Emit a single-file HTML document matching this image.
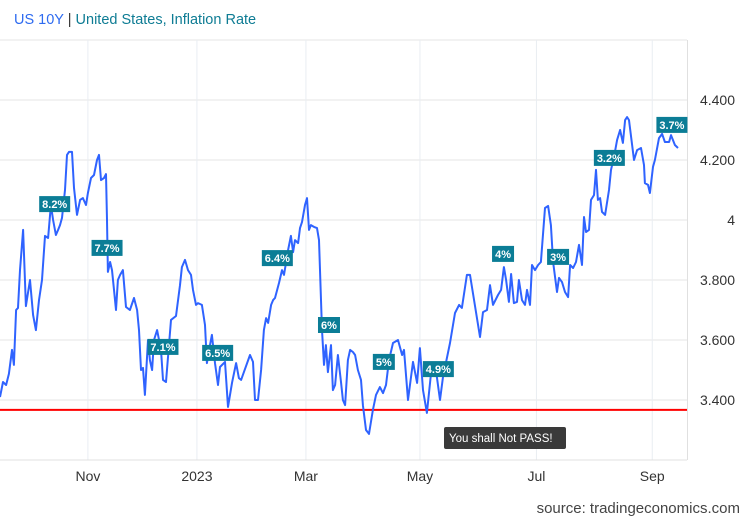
<!DOCTYPE html>
<html><head><meta charset="utf-8">
<style>
html,body{margin:0;padding:0;background:#fff;}
body{width:750px;height:520px;overflow:hidden;font-family:"Liberation Sans",Arial,sans-serif;}
</style></head>
<body>
<svg id="chart" width="750" height="520" xmlns="http://www.w3.org/2000/svg" font-family="Liberation Sans, Arial, sans-serif">
  <text x="14" y="24" font-size="14.5"><tspan fill="#2e6bf0">US 10Y</tspan><tspan fill="#333"> | </tspan><tspan fill="#0e7c94">United States, Inflation Rate</tspan></text>
  <g id="grid"></g>
  <g id="plot"></g>
  <g id="labels"></g>
  <g id="axes"></g>
  <g>
    <rect x="444" y="427" width="122" height="22" rx="2" fill="#3a3a3a"/>
    <text x="449" y="442" font-size="11.5" fill="#fff">You shall Not PASS!</text>
  </g>
  <text x="740" y="513" font-size="15" fill="#444" text-anchor="end">source: tradingeconomics.com</text>
</svg>
<script>
// days since 2022-09-13
const days = [0,1.7,3.4,5.0,6.7,7.8,9.0,10.1,11.2,12.9,14.5,16.8,18.5,20.1,21.8,23.5,25.2,26.9,28.5,29.7,31.3,32.5,33.6,34.7,36.4,37.5,38.6,40.3,41.4,43.1,44.8,46.4,48.1,49.2,50.9,52.6,54.3,55.4,56.5,58.2,59.3,59.9,60.4,61.6,62.7,63.8,64.9,66.0,67.2,68.8,70.5,72.7,75.0,76.7,77.8,78.9,80.0,81.1,82.8,83.9,85.1,86.2,87.9,90.1,91.2,92.9,95.7,98.5,100.7,101.8,103.5,105.2,106.9,108.0,109.7,110.8,113.0,114.7,115.8,117.5,118.6,120.3,122.0,123.1,125.9,127.6,129.8,132.1,133.7,134.9,139.9,141.6,142.7,144.4,146.1,147.7,148.9,150.0,151.7,152.8,153.9,156.1,157.8,158.9,161.2,162.8,164.0,165.1,166.8,167.9,169.0,170.7,171.8,172.9,174.0,175.7,177.4,178.5,180.2,181.3,182.4,183.5,185.2,186.3,187.5,189.1,190.8,191.9,193.1,194.7,195.9,197.5,198.7,200.3,202.0,203.1,204.8,206.5,208.7,210.4,212.6,214.3,216.0,217.7,219.9,222.7,225.0,226.1,228.3,231.1,233.4,235.0,236.7,238.9,241.8,243.4,246.2,247.9,251.8,254.6,256.9,258.5,261.3,263.0,268.6,270.3,272.5,274.2,275.9,278.7,280.4,282.0,283.2,284.8,286.0,287.6,289.3,290.4,292.1,293.8,294.9,296.6,297.7,299.4,301.1,302.7,305.0,306.7,308.3,309.5,311.7,312.8,314.5,316.2,317.9,319.0,320.7,322.3,324.0,325.7,326.8,327.9,329.6,330.7,332.4,333.5,334.6,335.8,336.9,338.6,340.8,341.9,343.6,345.3,347.0,348.6,349.8,350.9,352.0,354.8,356.5,358.7,360.4,360.9,362.6,363.7,365.4,366.5,368.8,370.5,372.1,374.4,375.5,377.7,379.4];
const yields = [3.410,3.460,3.450,3.487,3.567,3.517,3.700,3.707,3.833,3.967,3.713,3.800,3.683,3.633,3.733,3.800,3.947,3.940,4.050,4.000,3.950,3.967,3.983,4.007,4.100,4.217,4.227,4.227,4.107,4.017,4.067,4.073,4.050,4.090,4.140,4.150,4.200,4.217,4.133,4.140,4.153,4.000,3.827,3.860,3.833,3.767,3.700,3.800,3.817,3.833,3.710,3.700,3.740,3.700,3.633,3.500,3.507,3.417,3.600,3.533,3.500,3.600,3.633,3.567,3.467,3.460,3.667,3.680,3.783,3.843,3.867,3.833,3.817,3.767,3.717,3.723,3.717,3.650,3.523,3.583,3.617,3.523,3.450,3.510,3.527,3.377,3.457,3.523,3.473,3.467,3.550,3.527,3.400,3.400,3.500,3.633,3.673,3.657,3.717,3.733,3.740,3.790,3.833,3.817,3.900,3.947,3.893,3.933,3.923,3.973,3.993,4.050,4.073,3.967,3.983,3.977,3.973,3.933,3.633,3.517,3.583,3.493,3.583,3.433,3.450,3.550,3.460,3.400,3.383,3.533,3.567,3.560,3.550,3.500,3.467,3.383,3.300,3.287,3.367,3.417,3.443,3.423,3.450,3.533,3.590,3.600,3.550,3.567,3.400,3.527,3.457,3.573,3.433,3.357,3.523,3.523,3.400,3.477,3.590,3.690,3.717,3.707,3.817,3.817,3.610,3.693,3.700,3.783,3.717,3.750,3.767,3.843,3.800,3.727,3.820,3.723,3.727,3.800,3.733,3.717,3.767,3.717,3.850,3.833,3.850,3.860,4.040,4.047,3.983,3.860,3.760,3.807,3.793,3.760,3.743,3.850,3.840,3.860,3.917,3.850,4.010,3.960,3.967,4.067,4.083,4.167,4.067,4.073,4.027,4.017,4.100,4.167,4.210,4.267,4.300,4.257,4.333,4.343,4.333,4.200,4.233,4.240,4.183,4.123,4.117,4.090,4.177,4.200,4.273,4.287,4.260,4.260,4.283,4.250,4.240];
const yTicks = [3.4,3.6,3.8,4.0,4.2,4.4];
const yTickLabels = ["3.400","3.600","3.800","4","4.200","4.400"];
const xTickDays = [49.2,110.2,171.2,235.0,300.2,365.0];
const xTickLabels = ["Nov","2023","Mar","May","Jul","Sep"];
const thresholdValue = 3.367;
const annoText = ["8.2%","7.7%","7.1%","6.5%","6.4%","6%","5%","4.9%","4%","3%","3.2%","3.7%"];
const annoDays = [30.6,59.9,91.2,121.8,155.2,184.1,214.8,245.3,281.5,312.3,341.0,376.0];
const annoValues = [4.053,3.907,3.577,3.557,3.873,3.650,3.527,3.503,3.887,3.877,4.207,4.317];

const X0=0, PX_PER_DAY=1.787, PLOT_R=687, PLOT_T=40, PLOT_B=460;
const xs = d => X0 + d*PX_PER_DAY;
const ys = v => 100 + (4.4 - v)*300;
const NS="http://www.w3.org/2000/svg";
function mk(tag, attrs, parent){const e=document.createElementNS(NS,tag);for(const k in attrs)e.setAttribute(k,attrs[k]);parent.appendChild(e);return e;}

const grid=document.getElementById('grid');
mk('line',{x1:0,x2:PLOT_R,y1:PLOT_T,y2:PLOT_T,stroke:'#e6e6e6','stroke-width':1},grid);
yTicks.forEach((t,i)=>{
  const l=mk('line',{x1:0,x2:PLOT_R,y1:ys(t),y2:ys(t),stroke:'#e6e6e6','stroke-width':1},grid);
  
  
});
xTickDays.forEach(d=>{
  const l=mk('line',{x1:xs(d),x2:xs(d),y1:PLOT_T,y2:PLOT_B,stroke:'#e9edf2','stroke-width':1},grid);
  
  
});
mk('line',{x1:PLOT_R+0.5,x2:PLOT_R+0.5,y1:PLOT_T,y2:PLOT_B,stroke:'#e0e0e0','stroke-width':1},grid);
mk('line',{x1:0,x2:PLOT_R,y1:PLOT_B,y2:PLOT_B,stroke:'#e0e0e0','stroke-width':1},grid);

const plot=document.getElementById('plot');
const th=mk('line',{x1:0,x2:PLOT_R,y1:ys(thresholdValue),y2:ys(thresholdValue),stroke:'#f00','stroke-width':2},plot);


let dstr=days.map((d,i)=>(i?'L':'M')+xs(d).toFixed(1)+','+ys(yields[i]).toFixed(1)).join('');
const line=mk('path',{d:dstr,fill:'none',stroke:'#2f63ff','stroke-width':2,'stroke-linejoin':'round'},plot);



const labels=document.getElementById('labels');
annoText.forEach((t,i)=>{
  const g=mk('g',{},labels);
  
  
  const w = t.length<=2?22:(t.length===3?24:31);
  const cx=xs(annoDays[i]), cy=ys(annoValues[i]);
  mk('rect',{x:cx-w/2,y:cy-8,width:w,height:16,fill:'#0b7d96'},g);
  const tx=mk('text',{x:cx,y:cy+4,'font-size':11,'font-weight':'bold',fill:'#fff','text-anchor':'middle'},g);
  tx.textContent=t;
});

const axes=document.getElementById('axes');
yTicks.forEach((t,i)=>{
  const tx=mk('text',{x:735,y:ys(t)+5,'font-size':14,fill:'#333','text-anchor':'end'},axes);
  
  
  tx.textContent=yTickLabels[i];
});
xTickDays.forEach((d,i)=>{
  const tx=mk('text',{x:xs(d),y:481,'font-size':14,fill:'#333','text-anchor':'middle'},axes);
  
  
  tx.textContent=xTickLabels[i];
});
</script>
</body></html>
